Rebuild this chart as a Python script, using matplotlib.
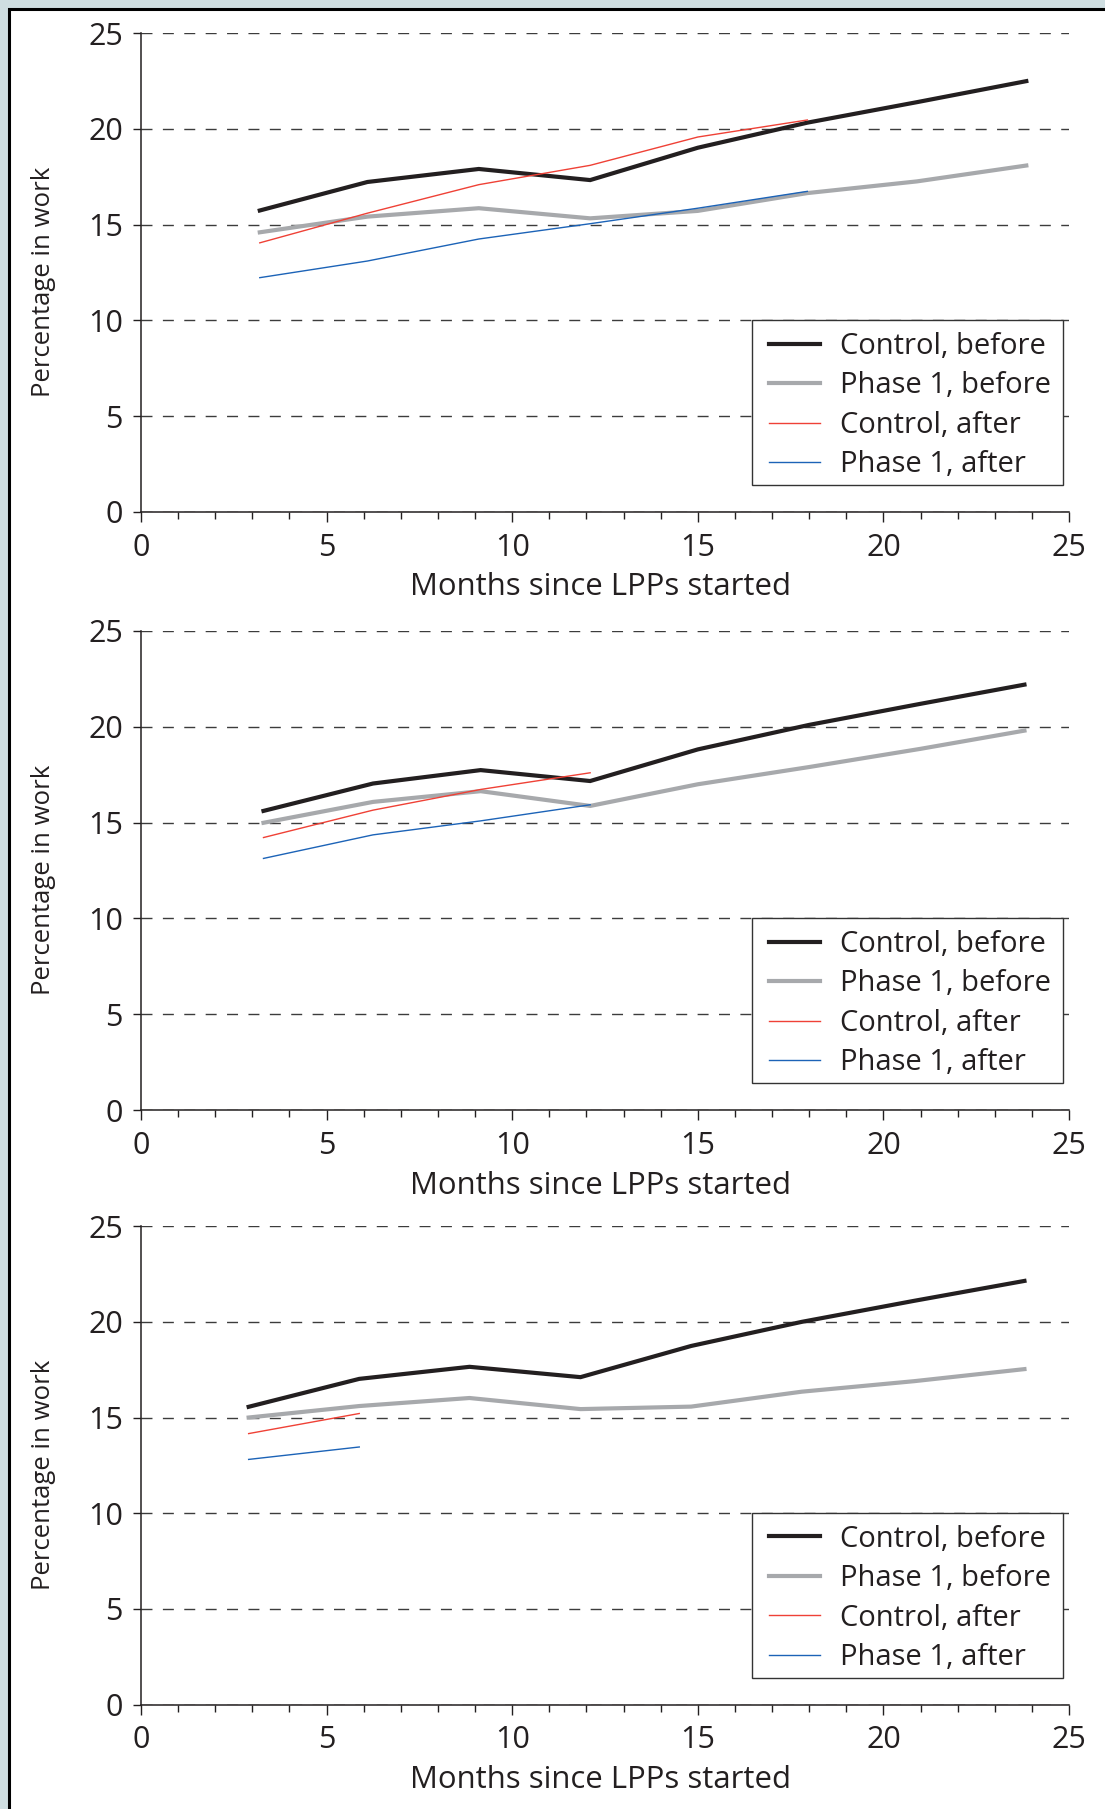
import matplotlib
matplotlib.use("Agg")
import matplotlib.pyplot as plt
from matplotlib.patches import Rectangle

plt.rcParams['font.family'] = ['Open Sans', 'DejaVu Sans']

# ---------------- data ----------------
series_labels = ["Control, before", "Phase 1, before", "Control, after", "Phase 1, after"]
x_ticks = [0, 5, 10, 15, 20, 25]
y_ticks = [0, 5, 10, 15, 20, 25]

# Panel 1 (top)
p1_x_before = [3.2, 6.1, 9.1, 12.1, 15.0, 17.95, 20.9, 23.85]
p1_control_before = [15.74, 17.23, 17.91, 17.33, 19.02, 20.33, 21.4, 22.5]
p1_phase1_before = [14.6, 15.42, 15.86, 15.33, 15.72, 16.65, 17.26, 18.09]
p1_x_after = [3.2, 6.1, 9.1, 12.1, 15.0, 17.95]
p1_control_after = [14.05, 15.6, 17.09, 18.1, 19.58, 20.47]
p1_phase1_after = [12.23, 13.1, 14.25, 15.05, 15.86, 16.74]

# Panel 2 (middle)
p2_x_before = [3.3, 6.25, 9.15, 12.1, 15.0, 18.0, 21.0, 23.8]
p2_control_before = [15.61, 17.04, 17.74, 17.17, 18.82, 20.1, 21.2, 22.2]
p2_phase1_before = [14.99, 16.08, 16.64, 15.87, 17.0, 17.9, 18.85, 19.8]
p2_x_after = [3.3, 6.25, 9.15, 12.1]
p2_control_after = [14.22, 15.65, 16.73, 17.6]
p2_phase1_after = [13.13, 14.36, 15.09, 15.93]

# Panel 3 (bottom)
p3_x_before = [2.9, 5.88, 8.85, 11.84, 14.82, 17.8, 20.83, 23.8]
p3_control_before = [15.56, 17.02, 17.65, 17.11, 18.74, 20.0, 21.1, 22.14]
p3_phase1_before = [15.0, 15.6, 16.02, 15.44, 15.57, 16.35, 16.9, 17.53]
p3_x_after = [2.9, 5.88]
p3_control_after = [14.16, 15.21]
p3_phase1_after = [12.81, 13.46]

panels = [
    (p1_x_before, p1_control_before, p1_phase1_before, p1_x_after, p1_control_after, p1_phase1_after),
    (p2_x_before, p2_control_before, p2_phase1_before, p2_x_after, p2_control_after, p2_phase1_after),
    (p3_x_before, p3_control_before, p3_phase1_before, p3_x_after, p3_control_after, p3_phase1_after),
]

# ---------------- style ----------------
W, H = 1105, 1809
DARK = '#231f20'
GREY = '#a7a9ac'
RED = '#ef4136'
BLUE = '#1c63b7'
BG = '#cfdee1'

fig = plt.figure(figsize=(W / 100, H / 100), dpi=100)
fig.patch.set_facecolor(BG)
fig.add_artist(Rectangle((9 / W, -0.1), 1.2, 1.1 - 9 / H, transform=fig.transFigure,
                         facecolor='white', edgecolor='black', linewidth=2.2, zorder=-10))

# axes pixel boxes: (top_px, bottom_px)
boxes = [(33.3, 511.7), (631.0, 1110.0), (1226.2, 1704.5)]
left_px, right_px = 141, 1069

for (top_px, bot_px), data in zip(boxes, panels):
    xb, cb, pb, xa, ca, pa = data
    ax = fig.add_axes([left_px / W, 1 - bot_px / H, (right_px - left_px) / W, (bot_px - top_px) / H])
    ax.set_facecolor('none')
    ax.set_xlim(0, 25)
    ax.set_ylim(0, 25)
    ax.set_xticks(x_ticks)
    ax.set_xticks(range(0, 26), minor=True)
    ax.set_yticks(y_ticks)
    for s in ('top', 'right'):
        ax.spines[s].set_visible(False)
    for s in ('left', 'bottom'):
        ax.spines[s].set_color(DARK)
        ax.spines[s].set_linewidth(1.1)
    ax.set_axisbelow(True)
    ax.yaxis.grid(True, color='#3c3c3c', linewidth=1.0, linestyle=(0, (7.9, 7.5)))
    ax.tick_params(axis='x', which='major', direction='out', length=7, width=1.0,
                   color=DARK, labelsize=22, labelcolor=DARK, pad=8)
    ax.tick_params(axis='x', which='minor', direction='out', length=5, width=1.0, color=DARK)
    ax.tick_params(axis='y', which='major', direction='out', length=6, width=1.0,
                   color=DARK, labelsize=22, labelcolor=DARK, pad=7)

    ax.plot(xb, cb, color=DARK, linewidth=3.0, label=series_labels[0], solid_joinstyle='miter')
    ax.plot(xb, pb, color=GREY, linewidth=3.0, label=series_labels[1], solid_joinstyle='miter')
    ax.plot(xa, ca, color=RED, linewidth=1.0, label=series_labels[2])
    ax.plot(xa, pa, color=BLUE, linewidth=1.0, label=series_labels[3])

    ax.set_xlabel('Months since LPPs started', fontsize=22.4, color=DARK, va='center')
    ax.xaxis.set_label_coords(0.495, -0.158)
    ax.set_ylabel('Percentage in work', fontsize=18.5, color=DARK, va='center')
    ax.yaxis.set_label_coords(-0.105, 0.48)

    # legend frame
    ax.add_patch(Rectangle((0.6584, 0.056), 0.3351, 0.344, transform=ax.transAxes,
                           facecolor='white', edgecolor='#333333', linewidth=1.0, zorder=4))
    leg = ax.legend(loc='upper left', bbox_to_anchor=(0.6767, 0.376),
                    fontsize=21, frameon=False,
                    handlelength=1.75, handletextpad=0.7, borderpad=0.0,
                    labelspacing=0.36, borderaxespad=0.0)
    leg.set_zorder(5)
    for t in leg.get_texts():
        t.set_color(DARK)

fig.savefig('out.png', dpi=100, facecolor=fig.get_facecolor())
